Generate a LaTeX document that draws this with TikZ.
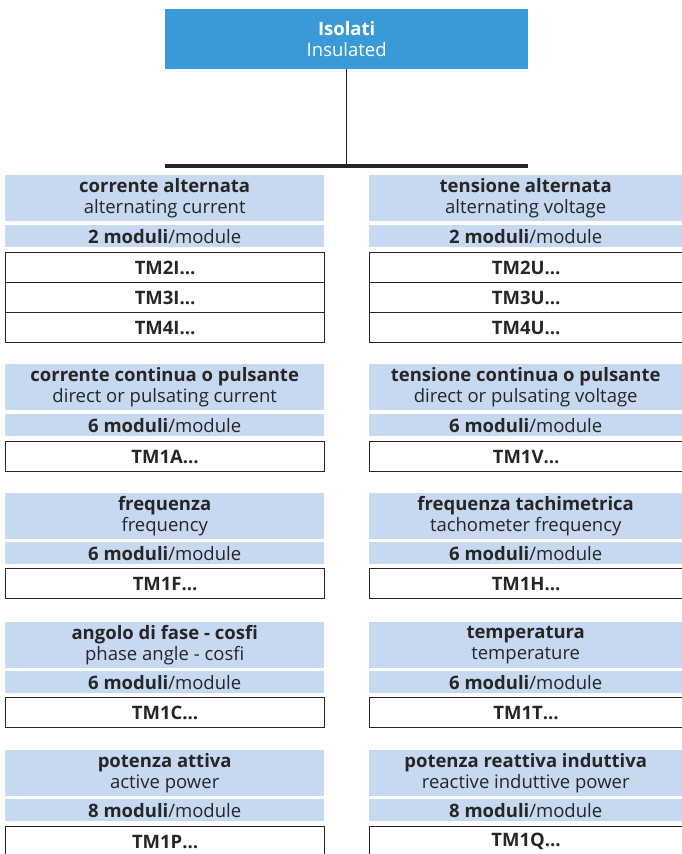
\documentclass[tikz,border=0pt]{standalone}
\usepackage{fontspec}
\setmainfont{Open Sans}
\usepackage{xcolor}
\usepackage{tikz}
\definecolor{topblue}{HTML}{3A9AD8}
\definecolor{paleblue}{HTML}{C6D9F0}
\definecolor{inkgray}{HTML}{262626}

\begin{document}
\begin{tikzpicture}[x=1pt,y=-1pt,font=\fontsize{18.5}{21}\selectfont,
  every node/.style={inner sep=0pt,anchor=north west,text=inkgray},
  head/.style={fill=paleblue,minimum width=#1,minimum height=46pt,align=center},
  mods/.style={fill=paleblue,minimum width=#1,minimum height=22pt},
  code/.style={draw=inkgray,line width=1.2pt,fill=white,minimum width=#1,minimum height=30pt}]
  \useasboundingbox (0,0) rectangle (681,854);
  % root
  \node[fill=topblue,text=white,minimum width=363pt,minimum height=60pt,align=center]
    (root) at (165,9) {\textbf{Isolati}\\Insulated};
  \coordinate (busL) at (165,166);
  \coordinate (busR) at (528,166);
  \coordinate (busM) at (root.south |- busL);
  \draw[inkgray,line width=1pt] (root.south) -- (busM);
  \draw[inkgray,line width=3.5pt] (busL) -- (busR);
  % alternating
  \node[head=319pt] (acI) at (5,175) {\textbf{corrente alternata}\\alternating current};
  \node[mods=319pt] (acImod) at (5,225) {\textbf{2 moduli}/module};
  \node[code=319pt] (tm2i) at (5,252) {\textbf{TM2I…}};
  \node[code=319pt] (tm3i) at (5,282) {\textbf{TM3I…}};
  \node[code=319pt] (tm4i) at (5,312) {\textbf{TM4I…}};
  \node[head=313pt] (acU) at (369,175) {\textbf{tensione alternata}\\alternating voltage};
  \node[mods=313pt] (acUmod) at (369,225) {\textbf{2 moduli}/module};
  \node[code=313pt] (tm2u) at (369,252) {\textbf{TM2U…}};
  \node[code=313pt] (tm3u) at (369,282) {\textbf{TM3U…}};
  \node[code=313pt] (tm4u) at (369,312) {\textbf{TM4U…}};
  % direct
  \node[head=319pt] (dcI) at (5,364) {\textbf{corrente continua o pulsante}\\direct or pulsating current};
  \node[mods=319pt] (dcImod) at (5,414) {\textbf{6 moduli}/module};
  \node[code=319pt] (tm1a) at (5,441) {\textbf{TM1A…}};
  \node[head=313pt] (dcU) at (369,364) {\textbf{tensione continua o pulsante}\\direct or pulsating voltage};
  \node[mods=313pt] (dcUmod) at (369,414) {\textbf{6 moduli}/module};
  \node[code=313pt] (tm1v) at (369,441) {\textbf{TM1V…}};
  % frequency
  \node[head=319pt] (frq) at (5,493) {\textbf{frequenza}\\frequency};
  \node[mods=319pt] (frqmod) at (5,542) {\textbf{6 moduli}/module};
  \node[code=319pt] (tm1f) at (5,568) {\textbf{TM1F…}};
  \node[head=313pt] (tach) at (369,493) {\textbf{frequenza tachimetrica}\\tachometer frequency};
  \node[mods=313pt] (tachmod) at (369,542) {\textbf{6 moduli}/module};
  \node[code=313pt] (tm1h) at (369,568) {\textbf{TM1H…}};
  % phase / temperature
  \node[head=319pt] (phi) at (5,622) {\textbf{angolo di fase - cosfi}\\phase angle - cosfi};
  \node[mods=319pt] (phimod) at (5,671) {\textbf{6 moduli}/module};
  \node[code=319pt] (tm1c) at (5,697) {\textbf{TM1C…}};
  \node[head=313pt] (temp) at (369,622) {\textbf{temperatura}\\temperature};
  \node[mods=313pt] (tempmod) at (369,671) {\textbf{6 moduli}/module};
  \node[code=313pt] (tm1t) at (369,697) {\textbf{TM1T…}};
  % power
  \node[head=319pt] (pw) at (5,750) {\textbf{potenza attiva}\\active power};
  \node[mods=319pt] (pwmod) at (5,799) {\textbf{8 moduli}/module};
  \node[code=319pt] (tm1p) at (5,826) {\textbf{TM1P…}};
  \node[head=313pt] (rpw) at (369,750) {\textbf{potenza reattiva induttiva}\\reactive induttive power};
  \node[mods=313pt] (rpwmod) at (369,799) {\textbf{8 moduli}/module};
  \node[code=313pt] (tm1q) at (369,826) {\textbf{TM1Q…}};
\end{tikzpicture}
\end{document}
